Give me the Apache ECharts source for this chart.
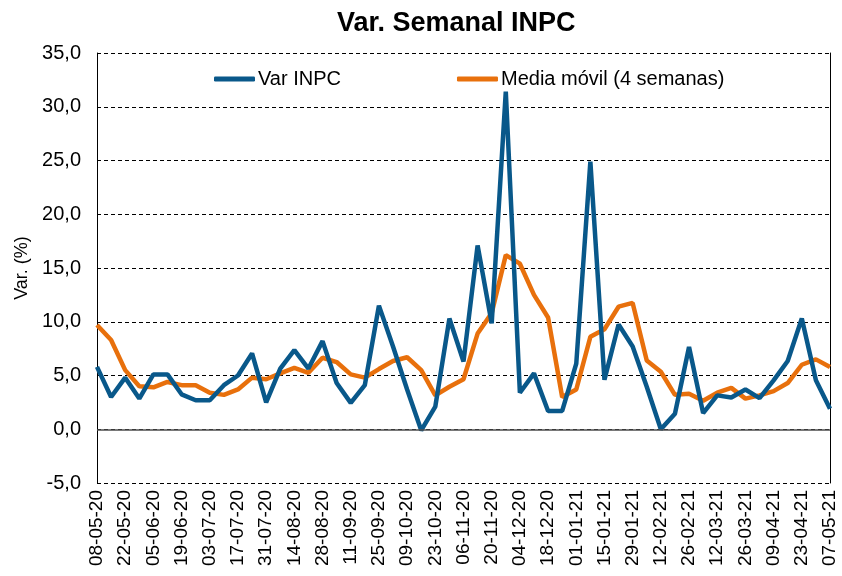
<!DOCTYPE html>
<html>
<head>
<meta charset="utf-8">
<title>Var. Semanal INPC</title>
<script src="https://cdn.jsdelivr.net/npm/echarts@6/dist/echarts.min.js"></script>
<style>
  html, body { margin: 0; padding: 0; background: #fff; }
  #chart { width: 842px; height: 576px; }
</style>
</head>
<body>
<div id="chart"></div>
<script>
  // semanas (viernes)
  const weeks = [
    '08-05-20', '15-05-20', '22-05-20', '29-05-20', '05-06-20', '12-06-20', '19-06-20', '26-06-20',
    '03-07-20', '10-07-20', '17-07-20', '24-07-20', '31-07-20', '07-08-20', '14-08-20', '21-08-20',
    '28-08-20', '04-09-20', '11-09-20', '18-09-20', '25-09-20', '02-10-20', '09-10-20', '16-10-20',
    '23-10-20', '30-10-20', '06-11-20', '13-11-20', '20-11-20', '27-11-20', '04-12-20', '11-12-20',
    '18-12-20', '25-12-20', '01-01-21', '08-01-21', '15-01-21', '22-01-21', '29-01-21', '05-02-21',
    '12-02-21', '19-02-21', '26-02-21', '05-03-21', '12-03-21', '19-03-21', '26-03-21', '02-04-21',
    '09-04-21', '16-04-21', '23-04-21', '30-04-21', '07-05-21'
  ]

  // variación semanal del INPC (%)
  const varInpc = [
    5.8, 3.0, 4.8, 2.85, 5.1, 5.1, 3.25, 2.7, 2.7, 4.1,
    5.0, 7.05, 2.5, 5.65, 7.35, 5.65, 8.2, 4.3, 2.45, 4.1,
    11.5, 7.7, 3.7, -0.1, 2.1, 10.3, 6.3, 17.1, 9.85, 31.4,
    3.4, 5.2, 1.7, 1.7, 6.1, 24.9, 4.6, 9.75, 7.7, 3.95,
    0.0, 1.45, 7.65, 1.5, 3.15, 2.95, 3.7, 2.9, 4.55, 6.35,
    10.3, 4.55, 1.9
  ]

  // media móvil de 4 semanas (%)
  const mediaMovil = [
    9.7, 8.3, 5.5, 4.0, 3.9, 4.4, 4.1, 4.1, 3.4, 3.2,
    3.7, 4.8, 4.65, 5.2, 5.7, 5.25, 6.65, 6.25, 5.1, 4.8,
    5.6, 6.35, 6.7, 5.5, 3.15, 3.95, 4.65, 8.9, 10.8, 16.2,
    15.4, 12.5, 10.4, 3.0, 3.7, 8.6, 9.3, 11.4, 11.75, 6.4,
    5.35, 3.2, 3.3, 2.65, 3.4, 3.85, 2.85, 3.15, 3.55, 4.3,
    6.0, 6.5, 5.8
  ]

  const yMin = -5
  const yMax = 35
  const yStep = 5

  const font = 'Liberation Sans, Arial, sans-serif'
  const chart = echarts.init(document.getElementById('chart'))

  const option = {
    animation: false,
    backgroundColor: '#fff',
    textStyle: { fontFamily: font, color: '#000' },
    title: {
      text: 'Var. Semanal INPC',
      left: 332,
      top: 5,
      textStyle: { fontSize: 27, fontWeight: 'bold', color: '#000', fontFamily: font }
    },
    legend: {
      left: 209,
      top: 64,
      itemWidth: 41,
      itemHeight: 5,
      itemGap: 116,
      icon: 'roundRect',
      textStyle: { fontSize: 20, color: '#000', padding: [0, 0, 0, -2] },
      data: ['Var INPC', 'Media móvil (4 semanas)']
    },
    grid: { left: 97, right: 12, top: 53, bottom: 93 },
    xAxis: {
      type: 'category',
      data: weeks,
      boundaryGap: false,
      axisLine: { show: false },
      axisTick: { show: false },
      axisLabel: {
        interval: 1,
        rotate: 90,
        margin: 7,
        fontSize: 19,
        color: '#000'
      },
      splitLine: { show: false }
    },
    yAxis: [
      {
        type: 'value',
        min: yMin,
        max: yMax,
        interval: yStep,
        name: 'Var. (%)',
        nameLocation: 'middle',
        nameRotate: 90,
        nameGap: 64,
        nameTextStyle: { fontSize: 18, color: '#000' },
        axisLine: { show: true, lineStyle: { color: '#000', width: 1 } },
        axisTick: { show: false },
        axisLabel: {
          fontSize: 20,
          color: '#000',
          margin: 16,
          formatter: v => v.toFixed(1).replace('.', ',')
        },
        splitLine: { show: true, lineStyle: { color: '#000', type: [4, 3], width: 1 } }
      },
      {
        // borde derecho del área de trazado
        type: 'value',
        position: 'right',
        min: yMin,
        max: yMax,
        interval: yStep,
        axisLine: { show: true, lineStyle: { color: '#000', width: 1 } },
        axisTick: { show: false },
        axisLabel: { show: false },
        splitLine: { show: false }
      }
    ],
    series: [
      {
        name: 'Var INPC',
        type: 'line',
        data: varInpc,
        symbol: 'none',
        color: '#09588A',
        lineStyle: { width: 4.5, color: '#09588A' },
        z: 3,
        markLine: {
          silent: true,
          symbol: 'none',
          label: { show: false },
          lineStyle: { color: '#4d4d4d', type: 'solid', width: 1.5 },
          data: [{ yAxis: 0 }]
        }
      },
      {
        name: 'Media móvil (4 semanas)',
        type: 'line',
        data: mediaMovil,
        symbol: 'none',
        color: '#E8700C',
        lineStyle: { width: 4.5, color: '#E8700C' },
        z: 2
      }
    ]
  }

  chart.setOption(option)
</script>
</body>
</html>
